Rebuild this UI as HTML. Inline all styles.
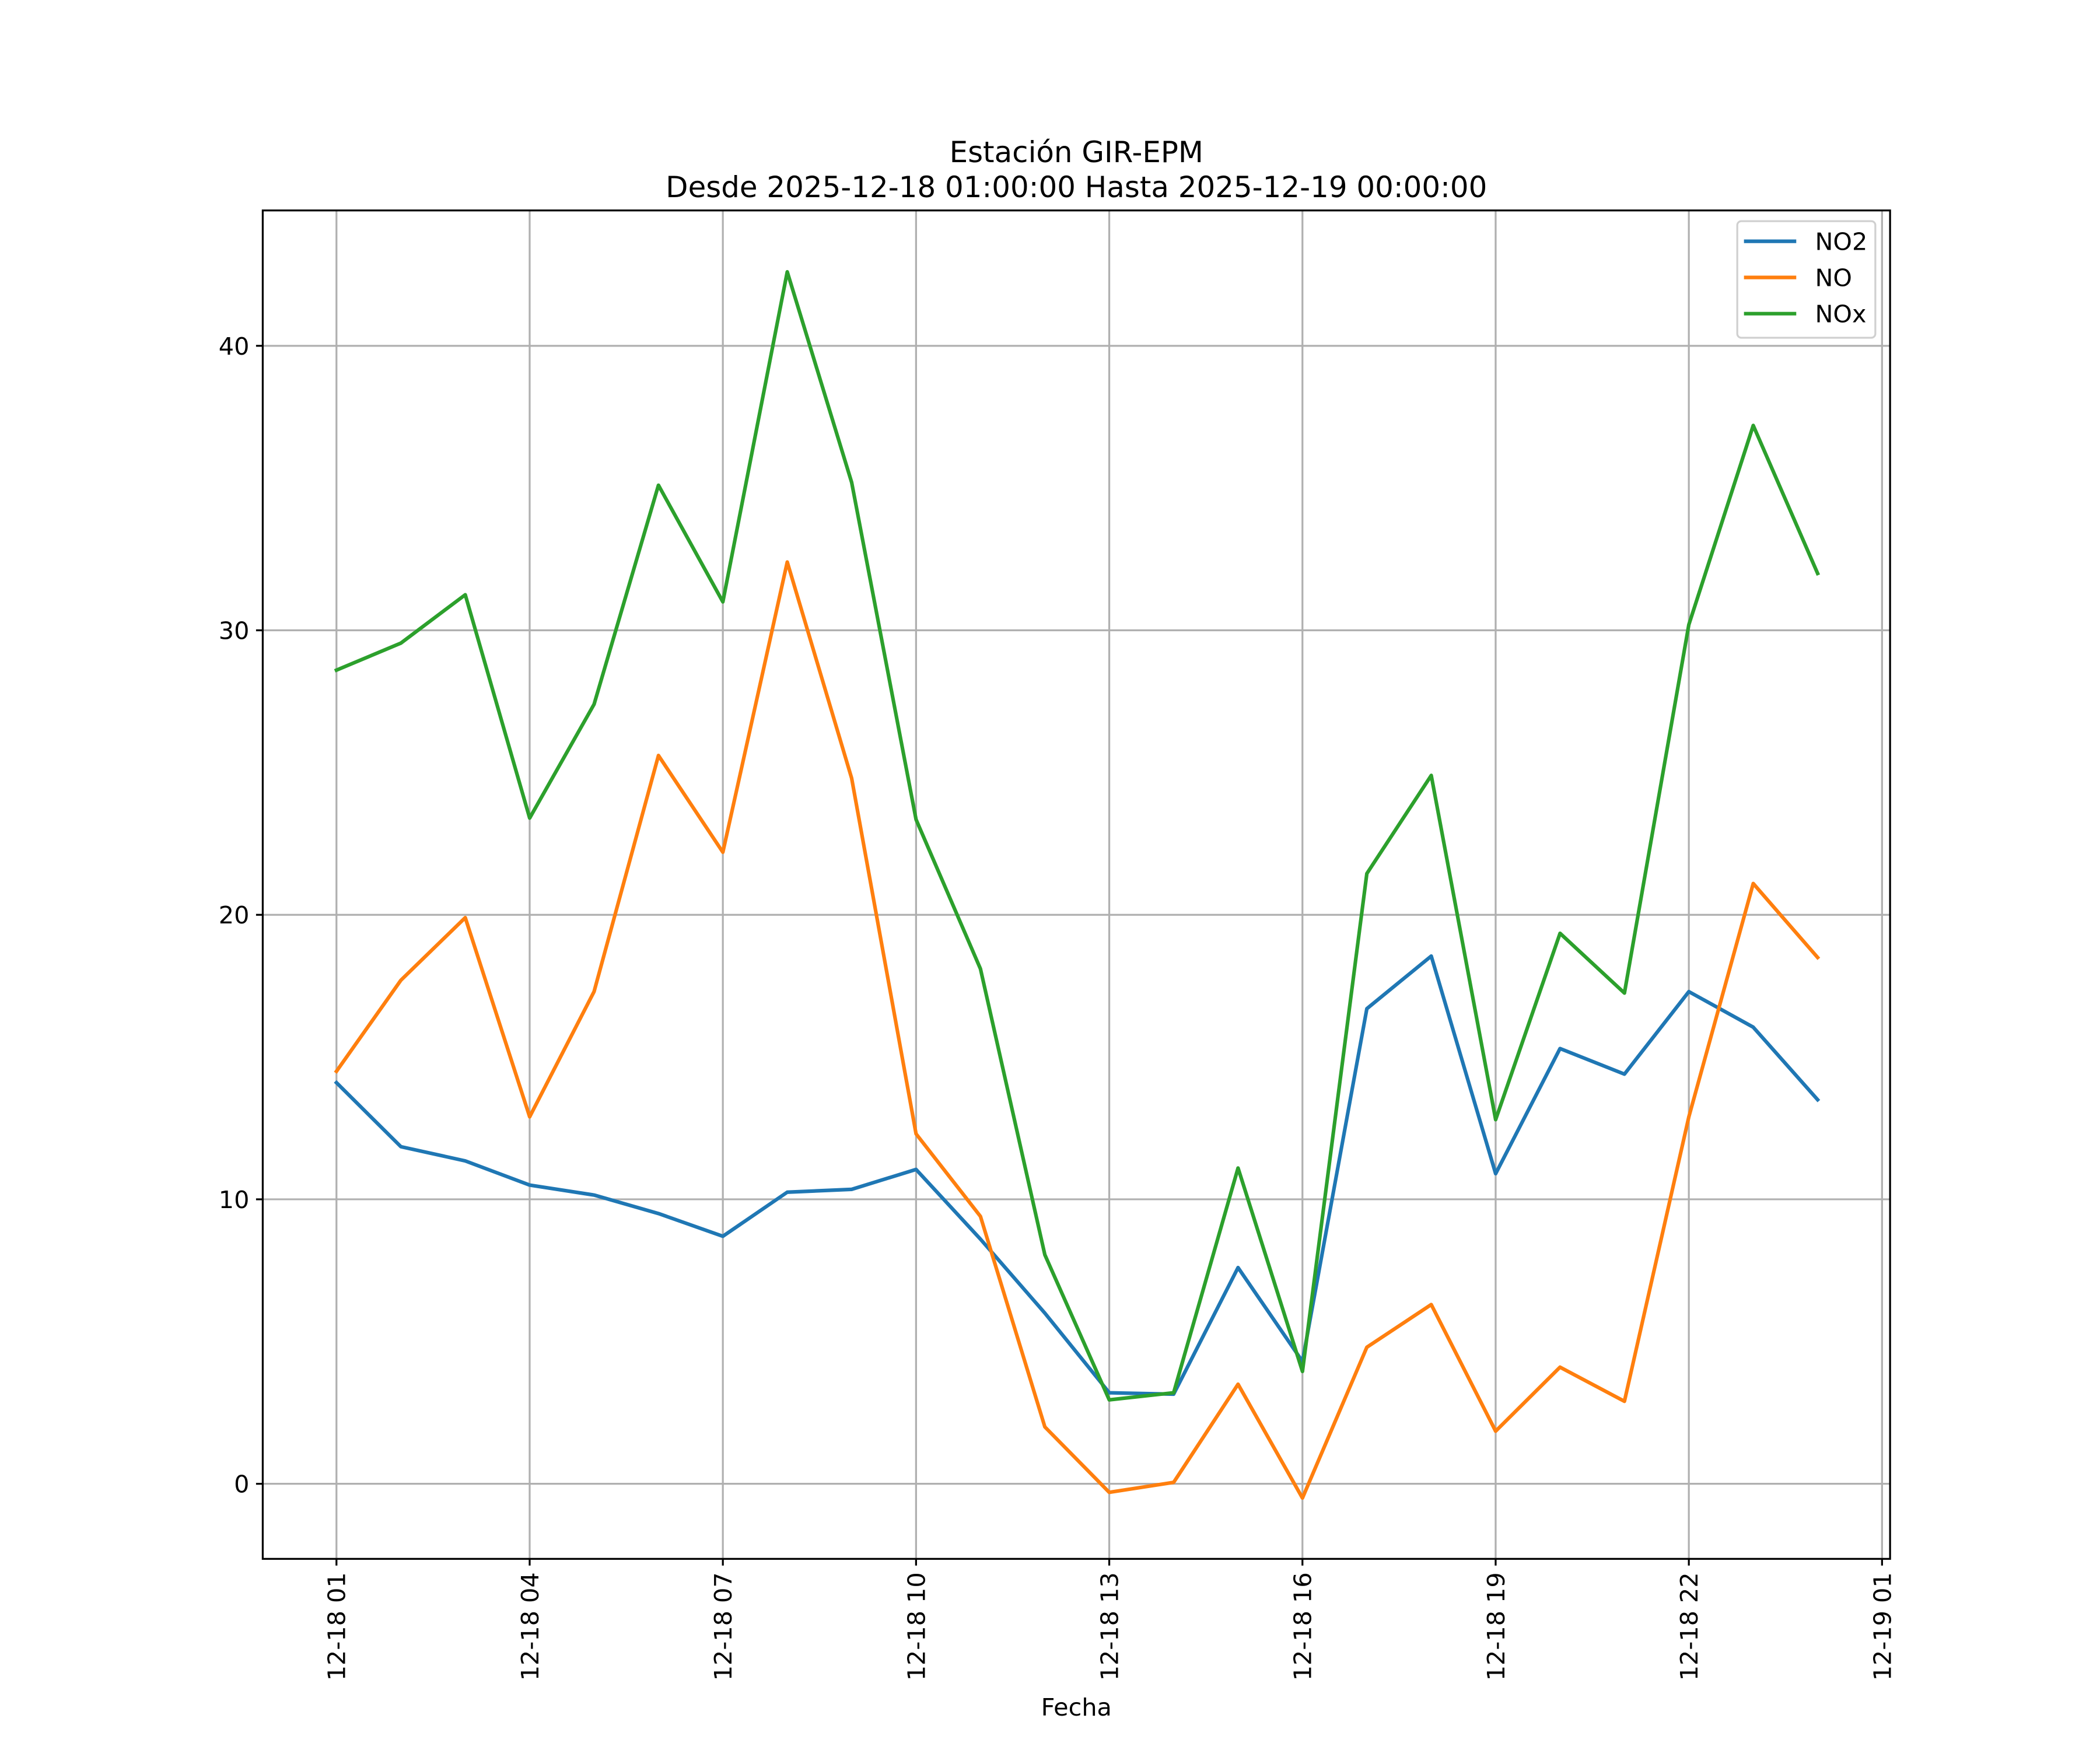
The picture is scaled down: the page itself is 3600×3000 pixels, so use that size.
<!DOCTYPE html>
<html><head><meta charset="utf-8"><style>
html,body{margin:0;padding:0;background:#fff;}
svg{display:block;font-family:"DejaVu Sans","Liberation Sans",sans-serif;}
</style></head><body>
<svg id="chart" width="3600" height="3000" viewBox="0 0 1566.6 1305.6" preserveAspectRatio="none" xmlns="http://www.w3.org/2000/svg">
<rect width="1600" height="1320" fill="#fff"/>
<text x="803" y="121" font-size="21.7" text-anchor="middle">Estación GIR-EPM</text>
<text x="803" y="147" font-size="21.7" text-anchor="middle">Desde 2025-12-18 01:00:00 Hasta 2025-12-19 00:00:00</text>
<g id="grid"></g>
<g id="series"></g>
<rect x="196" y="157" width="1214" height="1006" fill="none" stroke="#000" stroke-width="1.4"/>
<g id="ticks"></g>
<text x="803" y="1280" font-size="18" text-anchor="middle">Fecha</text>
<g transform="translate(4,0)">
<rect x="1292" y="165" width="103" height="87" rx="3" fill="#fff" fill-opacity="0.8" stroke="#d0d0d0" stroke-width="1.4"/>
<g><line x1="1297" x2="1336" y1="180" y2="180" stroke="#1f77b4" stroke-width="2.7"/><text x="1350" y="186.5" font-size="18">NO2</text></g>
<g><line x1="1297" x2="1336" y1="207" y2="207" stroke="#ff7f0e" stroke-width="2.7"/><text x="1350" y="213.5" font-size="18">NO</text></g>
<g><line x1="1297" x2="1336" y1="234" y2="234" stroke="#2ca02c" stroke-width="2.7"/><text x="1350" y="240.5" font-size="18">NOx</text></g>
</g>
</svg>
<script>
const hours = [1,2,3,4,5,6,7,8,9,10,11,12,13,14,15,16,17,18,19,20,21,22,23,24];
const no2 = [14.1,11.85,11.35,10.5,10.15,9.5,8.7,10.25,10.35,11.05,8.6,6.0,3.2,3.15,7.6,4.3,16.7,18.55,10.9,15.3,14.4,17.3,16.05,13.5];
const no = [14.5,17.7,19.9,12.9,17.3,25.6,22.2,32.4,24.8,12.3,9.4,2.0,-0.3,0.05,3.5,-0.5,4.8,6.3,1.85,4.1,2.9,12.9,21.1,18.5];
const nox = [28.6,29.55,31.25,23.4,27.4,35.1,31.0,42.6,35.2,23.35,18.1,8.05,2.95,3.2,11.1,3.95,21.45,24.9,12.8,19.35,17.25,30.2,37.2,32.0];
const yTicks = [0,10,20,30,40];
const xTickHours = [1,4,7,10,13,16,19,22,25];
const xTickLabels = ["12-18 01","12-18 04","12-18 07","12-18 10","12-18 13","12-18 16","12-18 19","12-18 22","12-19 01"];

const NS="http://www.w3.org/2000/svg";
function xs(h){return 251+(h-1)*(1404-251)/24;}
function ys(v){return 1107-v*(1107-258)/40;}
function mk(tag,attrs,parent){const e=document.createElementNS(NS,tag);for(const k in attrs)e.setAttribute(k,attrs[k]);parent.appendChild(e);return e;}
const grid=document.getElementById('grid'),ticks=document.getElementById('ticks'),series=document.getElementById('series');
yTicks.forEach(v=>{
  const y=ys(v);
  const g=mk('line',{x1:196,x2:1410,y1:y,y2:y,stroke:'#b0b0b0','stroke-width':1.4},grid);
  
  
  const t=mk('line',{x1:191,x2:196,y1:y,y2:y,stroke:'#000','stroke-width':1.4},ticks);
  
  
  const l=mk('text',{x:186,y:y+6.5,'font-size':18,'text-anchor':'end'},ticks);
  l.textContent=String(v);
  
  
});
xTickHours.forEach((h,i)=>{
  const x=xs(h);
  const g=mk('line',{x1:x,x2:x,y1:157,y2:1163,stroke:'#b0b0b0','stroke-width':1.4},grid);
  
  
  const t=mk('line',{x1:x,x2:x,y1:1163,y2:1168,stroke:'#000','stroke-width':1.4},ticks);
  
  
  const l=mk('text',{x:0,y:0,'font-size':18,'text-anchor':'end',transform:`translate(${x+6.5},1173) rotate(-90)`},ticks);
  l.textContent=xTickLabels[i];
  
  
});
[[no2,'#1f77b4','series-no2'],[no,'#ff7f0e','series-no'],[nox,'#2ca02c','series-nox']].forEach(([arr,c,n])=>{
  const pts=arr.map((v,i)=>xs(hours[i]).toFixed(2)+','+ys(v).toFixed(2)).join(' ');
  const p=mk('polyline',{points:pts,fill:'none',stroke:c,'stroke-width':2.7,'stroke-linejoin':'round','stroke-linecap':'square'},series);
  
  
});
</script>
</body></html>
